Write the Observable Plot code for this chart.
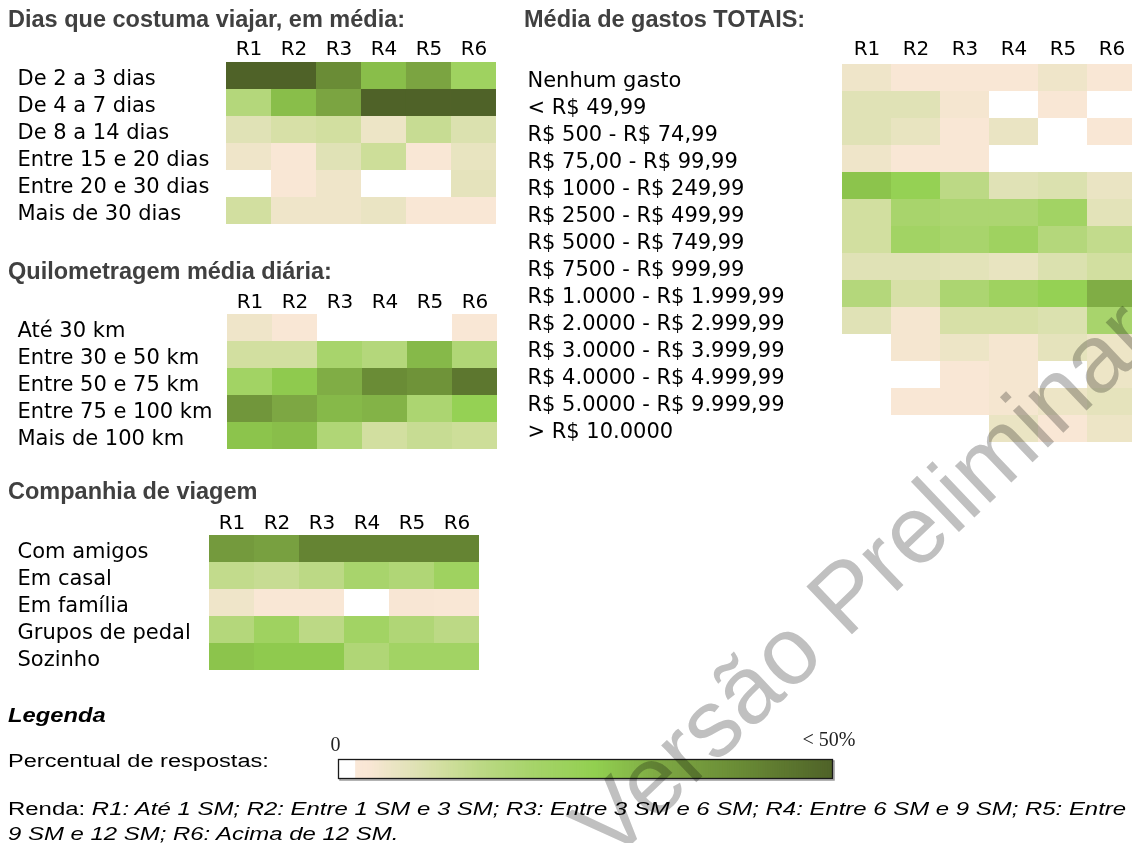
<!DOCTYPE html>
<html><head><meta charset="utf-8">
<script src="https://cdn.jsdelivr.net/npm/d3@7"></script>
<script src="https://cdn.jsdelivr.net/npm/@observablehq/plot@0.6"></script>
<style>
html,body{margin:0;padding:0;background:#fff;}
#page{position:relative;width:1132px;height:843px;overflow:hidden;background:#fff;font-family:"Liberation Sans",Arial,sans-serif;}
.abs{position:absolute;white-space:nowrap;line-height:1;}
.title{font-weight:bold;font-size:23.5px;color:#404040;}
.wide{transform-origin:left top;}
#wm{position:absolute;left:862px;top:579px;font-size:96px;line-height:1;white-space:nowrap;color:#c0c0c0;mix-blend-mode:multiply;transform:translate(-50%,-50%) rotate(-43.6deg);font-family:"Liberation Sans",Arial,sans-serif;pointer-events:none;}
</style></head><body><div id="page"></div>
<script>
// ---------- DATA ----------
const cols = ["R1","R2","R3","R4","R5","R6"];

const diasRows = ["De 2 a 3 dias","De 4 a 7 dias","De 8 a 14 dias","Entre 15 e 20 dias","Entre 20 e 30 dias","Mais de 30 dias"];
const diasValues = [
  [50, 50, 40, 28, 33, 21],
  [15, 28, 33, 50, 50, 50],
  [6, 8, 9, 3.5, 11, 7],
  [3, 1, 6, 10, 1, 4.5],
  [0, 1, 3, 0, 0, 5],
  [9, 3, 3, 4, 1, 1]
];

const kmRows = ["Até 30 km","Entre 30 e 50 km","Entre 50 e 75 km","Entre 75 e 100 km","Mais de 100 km"];
const kmValues = [
  [3, 1, 0, 0, 0, 1],
  [9, 9, 18, 15, 29, 16],
  [20, 26, 31, 40, 38, 45],
  [37, 32, 29, 30, 17, 24],
  [27, 28, 16, 9, 11, 10]
];

const compRows = ["Com amigos","Em casal","Em família","Grupos de pedal","Sozinho"];
const compValues = [
  [36, 34, 42, 42, 42, 42],
  [12, 11, 13, 18, 16, 21],
  [3, 1, 1, 0, 1.5, 1],
  [15, 21, 13, 20, 16, 13],
  [27, 26, 26, 16, 20, 20]
];

const gastoRows = ["Nenhum gasto","< R$ 49,99","R$ 500 - R$ 74,99","R$ 75,00 - R$ 99,99","R$ 1000 - R$ 249,99","R$ 2500 - R$ 499,99","R$ 5000 - R$ 749,99","R$ 7500 - R$ 999,99","R$ 1.0000 - R$ 1.999,99","R$ 2.0000 - R$ 2.999,99","R$ 3.0000 - R$ 3.999,99","R$ 4.0000 - R$ 4.999,99","R$ 5.0000 - R$ 9.999,99","> R$ 10.0000"];
const gastoValues = [
  [3, 1, 1, 1, 3, 1],
  [6, 6, 2, 0, 1, 0],
  [6, 4.5, 1, 4, 0, 1],
  [3, 1, 1, 0, 0, 0],
  [27, 24, 13, 6, 7, 4],
  [9, 18, 17, 17, 20, 5.5],
  [9, 20, 18, 21, 15, 12],
  [6, 6, 5.5, 4.5, 7, 9],
  [15, 8, 17, 21, 24, 31],
  [6, 2, 8, 8, 7, 18],
  [0, 2, 3.5, 2, 5, 3.5],
  [0, 0, 1, 2, 0, 3.5],
  [0, 1, 1, 2, 3.5, 5],
  [0, 0, 0, 4, 1, 3.5]
];

const colorStops = [0, 1.5, 3, 6, 9, 13, 18, 25, 32, 40, 50];
const colorRange = ["#fae8d8","#f8e6d4","#efe5c9","#e0e2b6","#d2dfa0","#bcd985","#a8d46c","#92d050","#7da743","#6a8c36","#4f6228"];
const legendMax = 50;
const legendLabels = ["0", "< 50%"];

// ---------- RENDER ----------
const page = document.getElementById("page");
const colorOpts = {type: "linear", domain: colorStops, range: colorRange, interpolate: "rgb", clamp: true};

function place(node, left, top, w) {
  const wrap = document.createElement("div");
  wrap.className = "abs";
  wrap.style.left = left + "px";
  wrap.style.top = top + "px";
  if (w) wrap.style.width = w + "px";
  wrap.appendChild(node);
  page.appendChild(wrap);
  return wrap;
}
function html(text, left, top, cls, extra) {
  const d = document.createElement("div");
  d.className = "abs " + (cls || "");
  d.style.left = left + "px";
  d.style.top = top + "px";
  if (extra) Object.assign(d.style, extra);
  d.innerHTML = text;
  page.appendChild(d);
  return d;
}

function heatmap(rows, values, L) {
  const data = rows.flatMap((r, i) => cols.map((c, j) => ({row: r, col: c, v: values[i][j]})));
  const gridW = L.cellW * cols.length;
  const gridH = L.rowH * rows.length;
  const width = L.cellLeft + gridW;
  const height = L.cellTop + gridH + 4;
  const svg = Plot.plot({
    width, height,
    marginLeft: L.cellLeft, marginRight: 0, marginTop: L.cellTop, marginBottom: 4,
    x: {domain: cols, padding: 0, axis: null},
    y: {domain: rows, padding: 0, axis: null},
    color: colorOpts,
    style: {fontFamily: "'DejaVu Sans', sans-serif", background: "transparent", overflow: "visible"},
    marks: [
      Plot.cell(data.filter(d => d.v > 0), {x: "col", y: "row", fill: "v"}),
      Plot.text(rows, {y: d => d, text: d => d, frameAnchor: "left", textAnchor: "start",
        dx: L.labelX - L.cellLeft, dy: 2.5, fontSize: 21, fill: "#000"}),
      Plot.text(cols, {x: d => d, text: d => d, frameAnchor: "top", lineAnchor: "bottom",
        dy: -5, fontSize: 20, fill: "#000"})
    ]
  });
  place(svg, L.left, L.top, width);
}

heatmap(diasRows, diasValues, {left: 0, top: 0, cellLeft: 224, cellTop: 60, cellW: 45.5, rowH: 27.7, labelX: 17});
heatmap(kmRows, kmValues, {left: 0, top: 255, cellLeft: 225, cellTop: 57, cellW: 45.5, rowH: 27.6, labelX: 17});
heatmap(compRows, compValues, {left: 0, top: 480, cellLeft: 207, cellTop: 53, cellW: 45.5, rowH: 27.6, labelX: 17});
heatmap(gastoRows, gastoValues, {left: 510, top: 0, cellLeft: 331, cellTop: 60, cellW: 49.3, rowH: 27.6, labelX: 17});

// titles
html("Dias que costuma viajar, em média:", 8, 8, "title");
html("Quilometragem média diária:", 8, 260, "title");
html("Companhia de viagem", 8, 480, "title");
html("Média de gastos TOTAIS:", 524, 8, "title");

// legend
html("Legenda", 8, 704, "wide", {fontWeight: "bold", fontStyle: "italic", fontSize: "21px", color: "#000", transform: "scaleX(1.13)"});
html("Percentual de respostas:", 8, 752, "wide", {fontSize: "18px", color: "#000", transform: "scaleX(1.31)"});

const steps = d3.range(0, legendMax, 0.25);
const legendSvg = Plot.plot({
  width: 530, height: 60,
  marginLeft: 8, marginRight: 28, marginTop: 34, marginBottom: 7,
  x: {domain: [-1.8, legendMax], axis: null},
  color: colorOpts,
  style: {background: "transparent", overflow: "visible"},
  marks: [
    Plot.frame({stroke: "#9a9a9a", dx: 1.5, dy: 1.5, strokeWidth: 1.5}),
    Plot.frame({fill: "white"}),
    Plot.rect(steps, {x1: d => d, x2: d => d + 0.35, fill: d => d}),
    Plot.frame({stroke: "#1a1a1a", strokeWidth: 1.3}),
    Plot.text([legendLabels[0]], {text: d => d, frameAnchor: "top-left", textAnchor: "middle", lineAnchor: "bottom",
      dx: -3, dy: -9, fontFamily: "'Liberation Serif', serif", fontSize: 20, fill: "#222"}),
    Plot.text([legendLabels[1]], {text: d => d, frameAnchor: "top-right", textAnchor: "end", lineAnchor: "bottom",
      dx: 23, dy: -14, fontFamily: "'Liberation Serif', serif", fontSize: 20, fill: "#222"})
  ]
});
place(legendSvg, 330, 725, 530);

html("Renda: <i>R1: Até 1 SM; R2: Entre 1 SM e 3 SM; R3: Entre 3 SM e 6 SM; R4: Entre 6 SM e 9 SM; R5: Entre</i><br><i>9 SM e 12 SM; R6: Acima de 12 SM.</i>",
  8, 797, "wide", {fontSize: "18px", lineHeight: "25px", color: "#000", transform: "scaleX(1.33)"});

// watermark
const wm = document.createElement("div");
wm.id = "wm";
wm.textContent = "Versão Preliminar";
page.appendChild(wm);
</script>
</body></html>
